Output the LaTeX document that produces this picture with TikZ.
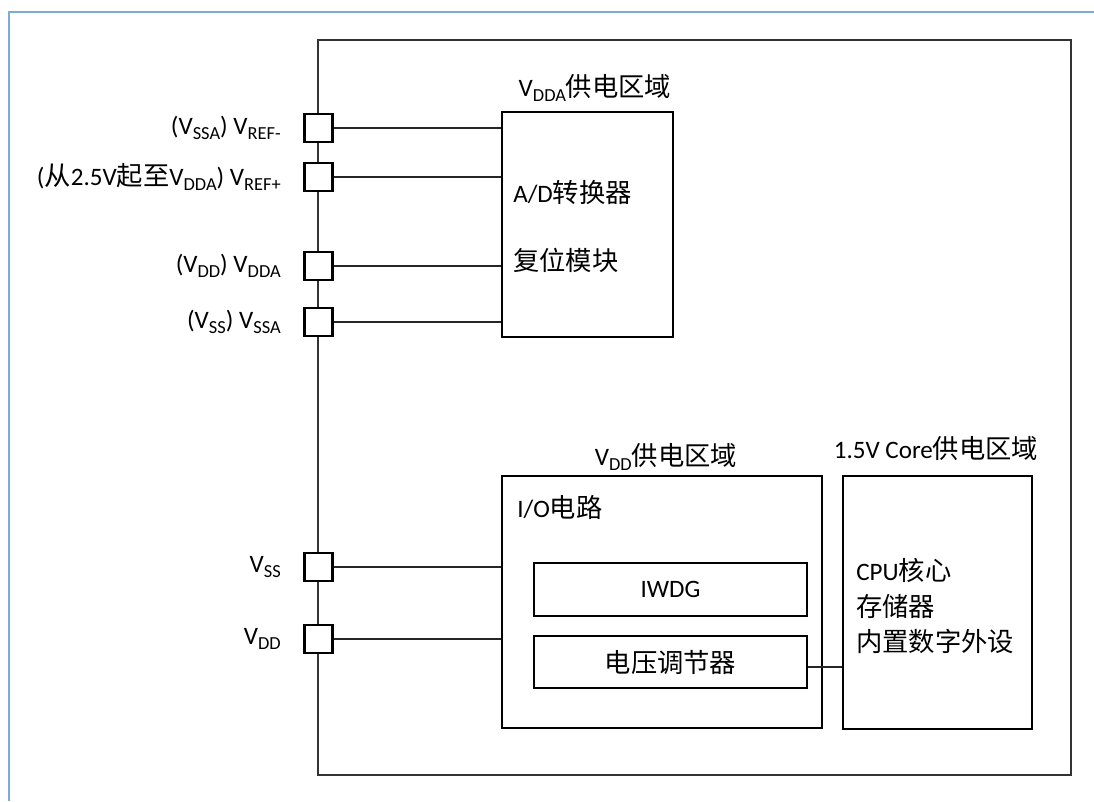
\documentclass[tikz,border=0pt]{standalone}
\usepackage{fontspec}
\setmainfont{Carlito}
\newfontfamily\cjk{Noto Sans CJK SC}[Scale=1.05]
\usetikzlibrary{positioning,fit}
\definecolor{pageblue}{RGB}{125,172,212}
\newcommand{\zh}[1]{{\cjk #1}}
\newcommand{\lowtxt}[1]{\raisebox{-0.22em}{\fontsize{13.8}{13.8}\selectfont #1}}
\begin{document}
\begin{tikzpicture}[
            x=0.75pt, y=-0.75pt,
            every node/.style={inner sep=0pt, font=\fontsize{18.8}{22}\selectfont},
            padbox/.style={draw, line width=2.2pt, fill=white, minimum size=21pt},
            block/.style={draw, line width=0.9pt, inner sep=0pt},
            wire/.style={line width=0.9pt, draw=black!85},
            lbl/.style={anchor=east},
            txt/.style={anchor=west}]
        \useasboundingbox (0,0) rectangle (1094,801);
        \draw[pageblue, line width=1.2pt] (9,801) -- (9,12) -- (1094,12);
        \node [block, draw=black!80, line width=1.1pt, fit={(318,40) (1071,775)}] (chip) {};
        \node [block, fit={(502,112) (673,337)}] (vdda) {};
        \node [block, fit={(502,476) (822,728)}] (vdd) {};
        \node [block, fit={(534,563) (807,616)}] (iwdg) {};
        \node [block, fit={(534,636) (807,688)}] (reg) {};
        \node [block, fit={(843,476) (1032,729)}] (core) {};
        \node (iwdgtxt) at (iwdg.center) {IWDG};
        \node (regtxt) at (reg.center) {\zh{电压调节器}};
        \node [padbox] (pREFm) at (318.5,128) {};
        \node [padbox] (pREFp) at (318.5,177) {};
        \node [padbox] (pDDA) at (318.5,266) {};
        \node [padbox] (pSSA) at (318.5,322) {};
        \node [padbox] (pSS) at (318.5,567) {};
        \node [padbox] (pDD) at (318.5,639) {};
        \node [lbl] (lREFm) at (281,128) {(V\lowtxt{SSA}) V\lowtxt{REF-}};
        \node [lbl] (lREFp) at (281,177) {(\zh{从}2.5V\zh{起至}V\lowtxt{DDA}) V\lowtxt{REF+}};
        \node [lbl] (lDDA) at (281,266) {(V\lowtxt{DD}) V\lowtxt{DDA}};
        \node [lbl] (lSSA) at (281,322) {(V\lowtxt{SS}) V\lowtxt{SSA}};
        \node [lbl] (lSS) at (281,567) {V\lowtxt{SS}};
        \node [lbl] (lDD) at (281,639) {V\lowtxt{DD}};
        \node (tdda) at (595,88) {V\lowtxt{DDA}\zh{供电区域}};
        \node (tdd) at (666,457) {V\lowtxt{DD}\zh{供电区域}};
        \node (tcore) at (936,448) {1.5V Core\zh{供电区域}};
        \node [txt] (adc) at (513,192) {A/D\zh{转换器}};
        \node [txt] (rst) at (513,260) {\zh{复位模块}};
        \node [txt] (io) at (517,507) {I/O\zh{电路}};
        \node [txt, align=left, font=\fontsize{18.8}{26.5}\selectfont] (corelist) at (856,606)
            {CPU\zh{核心}\\ \zh{存储器}\\ \zh{内置数字外设}};
        \draw [wire] (pREFm.east) -- (pREFm.east -| vdda.west);
        \draw [wire] (pREFp.east) -- (pREFp.east -| vdda.west);
        \draw [wire] (pDDA.east) -- (pDDA.east -| vdda.west);
        \draw [wire] (pSSA.east) -- (pSSA.east -| vdda.west);
        \draw [wire] (pSS.east) -- (pSS.east -| vdd.west);
        \draw [wire] (pDD.east) -- (pDD.east -| vdd.west);
        \draw [wire] ([yshift=-3.75pt]reg.east) -- ([yshift=-3.75pt]reg.east -| core.west);
    \end{tikzpicture}
\end{document}
